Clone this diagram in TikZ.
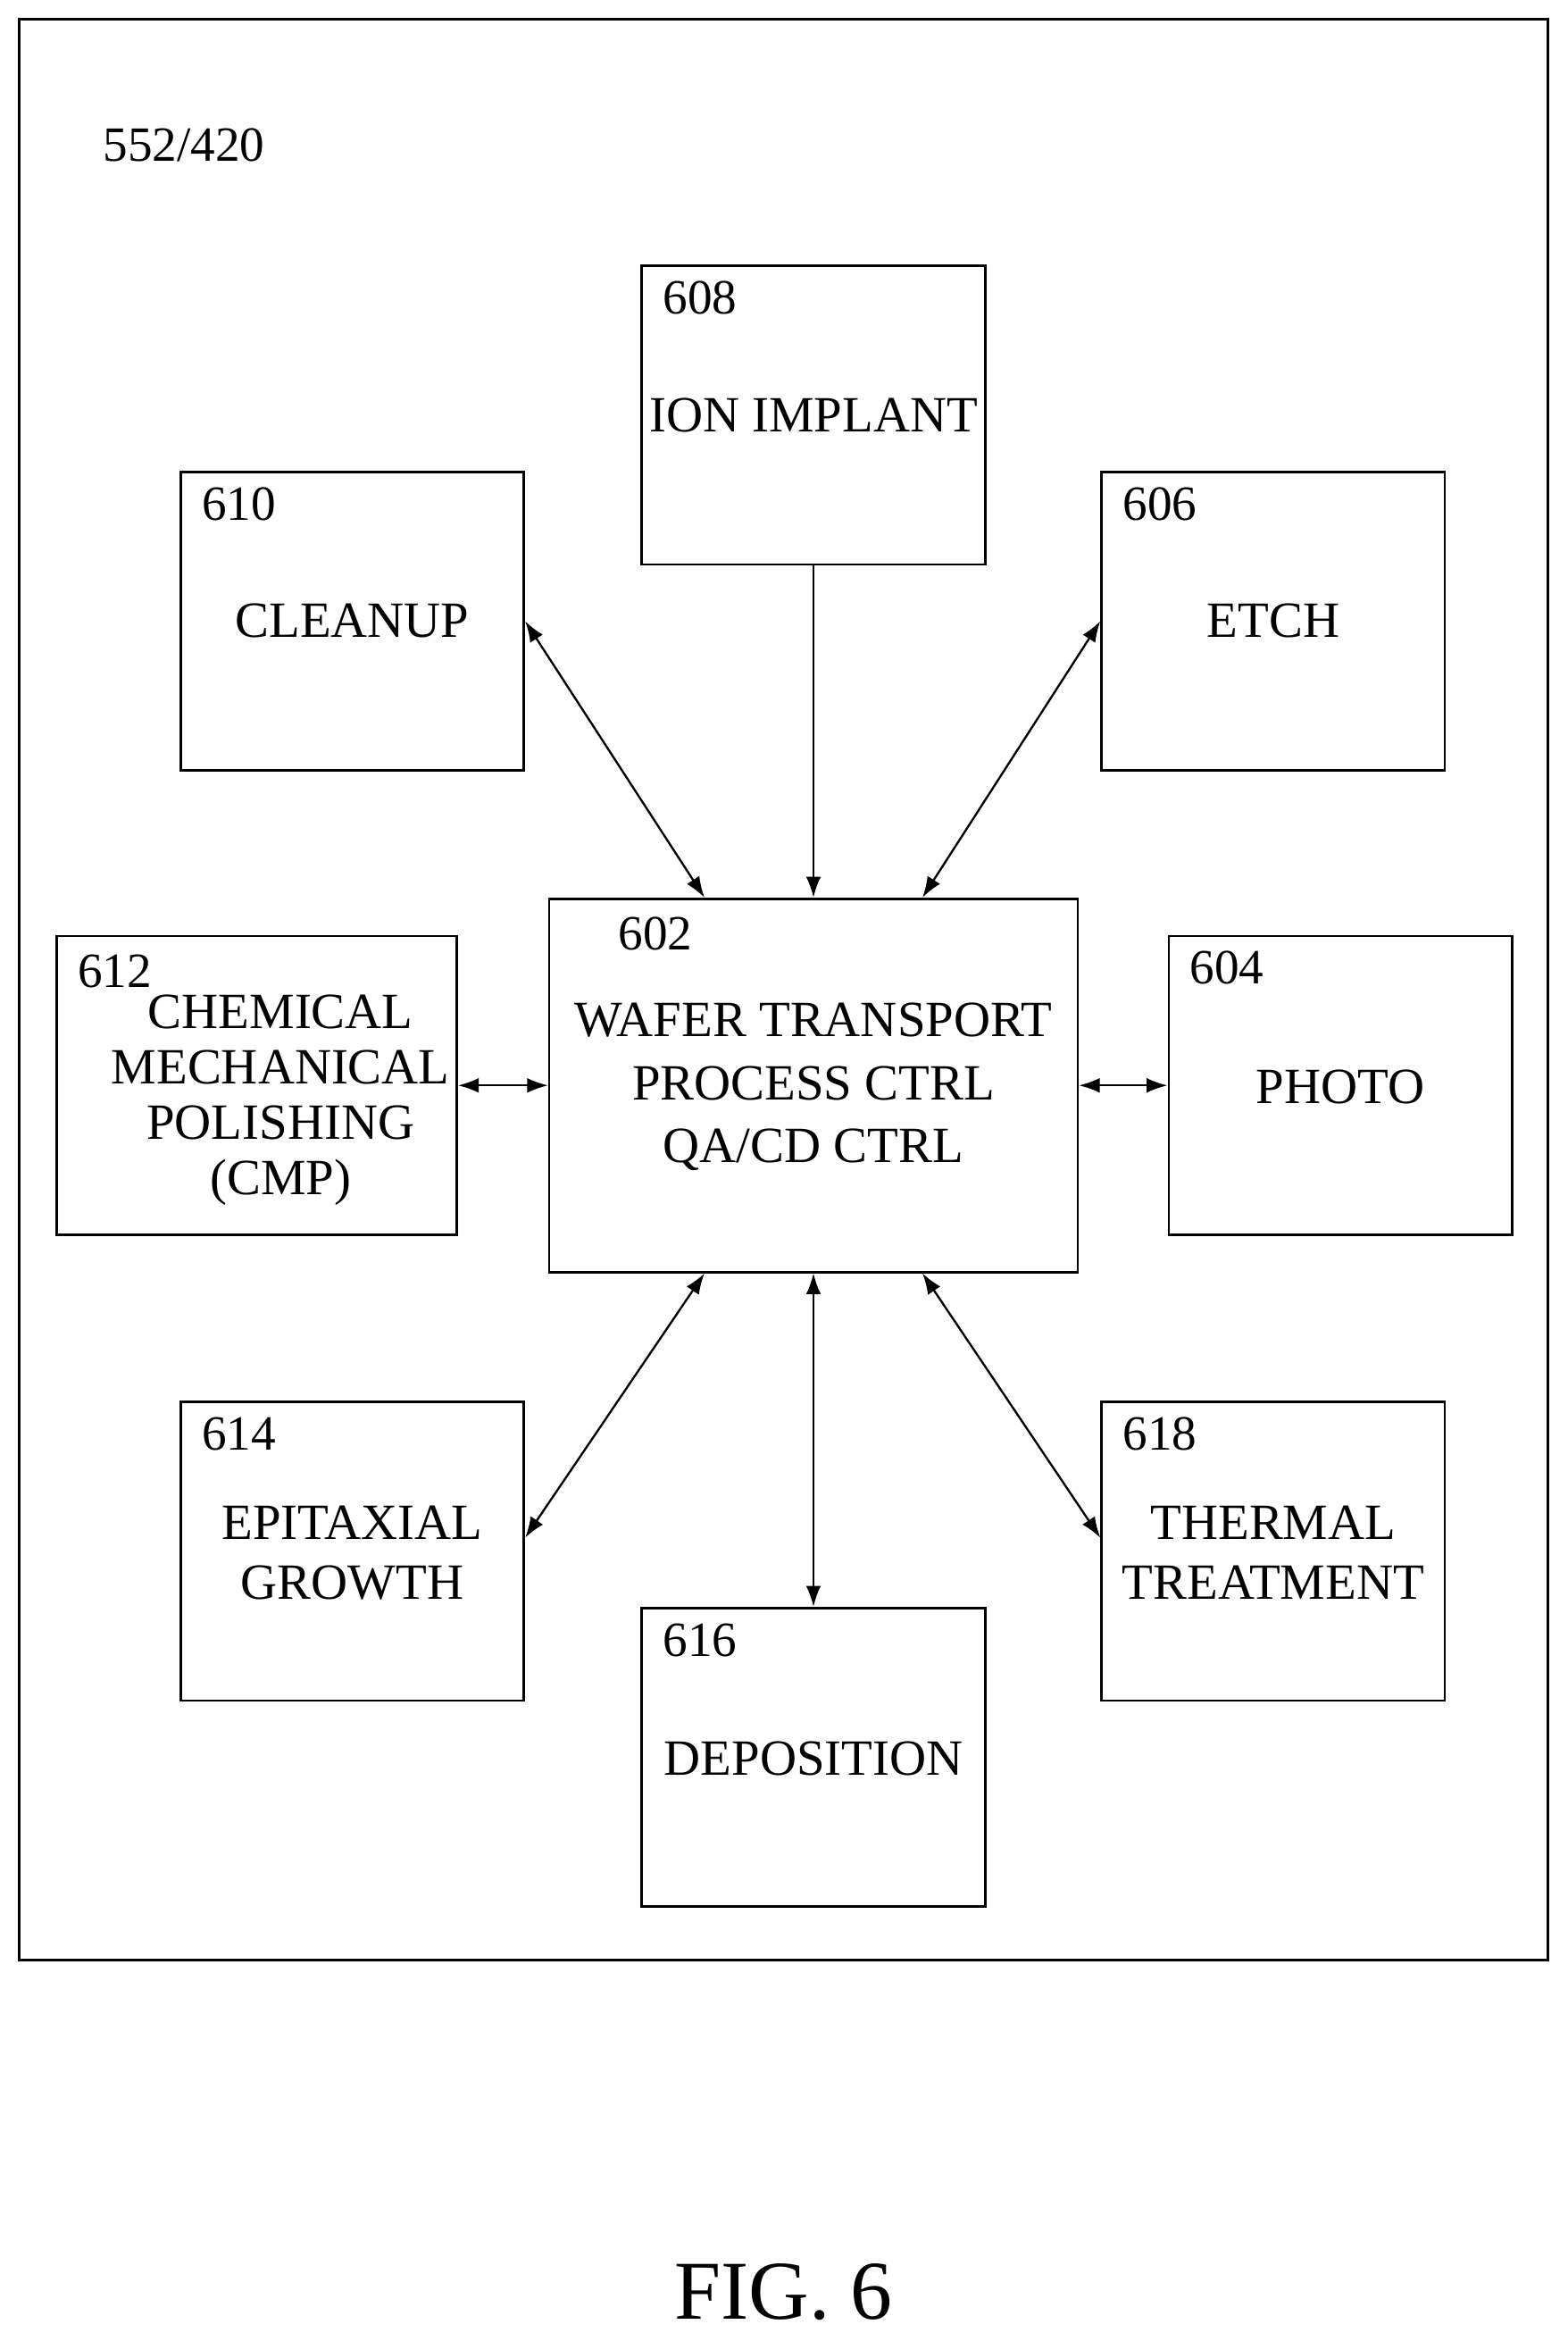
\documentclass[tikz,border=0pt]{standalone}
\usepackage{fontspec}
\setmainfont{Liberation Serif}
\usetikzlibrary{arrows.meta,calc}
\tikzset{
  box/.style={draw,line width=0.8pt,minimum width=115pt,minimum height=100pt,inner sep=0pt},
  num/.style={anchor=base west,font=\fontsize{16.5}{19}\selectfont},
  txt/.style={align=center,font=\fontsize{17}{20}\selectfont,inner sep=0pt},
  link/.style={line width=0.7pt,{Latex[length=7pt,width=5pt]}-{Latex[length=7pt,width=5pt]}},
}
\begin{document}
\begin{tikzpicture}[x=0.5pt,y=-0.5pt]
\useasboundingbox (0,0) rectangle (1050,1568);
\draw[line width=0.8pt] (13,13) rectangle (1037,1313);
\node[num] at (62,108) {552/420};
% process boxes
\node[box] (n608) at (545,278) {};
\node[box] (n610) at (236,416) {};
\node[box] (n606) at (853,416) {};
\node[box,minimum width=177pt,minimum height=125pt] (n602) at (545,727) {};
\node[box,minimum width=134pt] (n612) at (172,727) {};
\node[box] (n604) at (898,727) {};
\node[box] (n614) at (236,1039) {};
\node[box] (n616) at (545,1177) {};
\node[box] (n618) at (853,1039) {};
% numbers
\foreach \n in {608,610,606,604,614,616,618}
  \node[num] at ([shift={(8,33)}]n\n.north west) {\n};
\node[num] at ([shift={(40,35)}]n602.north west) {602};
\node[num] at ([shift={(8,35)}]n612.north west) {612};
% texts
\node[txt] at (545,278) {ION IMPLANT};
\node[txt] at (236,416) {CLEANUP};
\node[txt] at (853,416) {ETCH};
\node[txt] at (545,728) {WAFER TRANSPORT\\[1pt]PROCESS CTRL\\[1pt]QA/CD CTRL};
\node[txt,font=\fontsize{17}{18.5}\selectfont] at (188,737) {CHEMICAL\\MECHANICAL\\POLISHING\\(CMP)};
\node[txt] at (898,728) {PHOTO};
\node[txt] at (236,1040) {EPITAXIAL\\GROWTH};
\node[txt] at (545,1178) {DEPOSITION};
\node[txt] at (853,1040) {THERMAL\\TREATMENT};
\node[font=\fontsize{28}{32}\selectfont] at (525,1535) {FIG. 6};
% connectors
\draw[line width=0.7pt,-{Latex[length=7pt,width=5pt]}] (n608.south) -- (n602.north);
\draw[link] (n610.east) -- ([xshift=-36.5pt]n602.north);
\draw[link] (n606.west) -- ([xshift=36.5pt]n602.north);
\draw[link] (n612.east) -- (n602.west);
\draw[link] (n604.west) -- (n602.east);
\draw[link] ([yshift=4.5pt]n614.east) -- ([xshift=-36.5pt]n602.south);
\draw[link] (n616.north) -- (n602.south);
\draw[link] ([yshift=4.5pt]n618.west) -- ([xshift=36.5pt]n602.south);
\end{tikzpicture}
\end{document}
